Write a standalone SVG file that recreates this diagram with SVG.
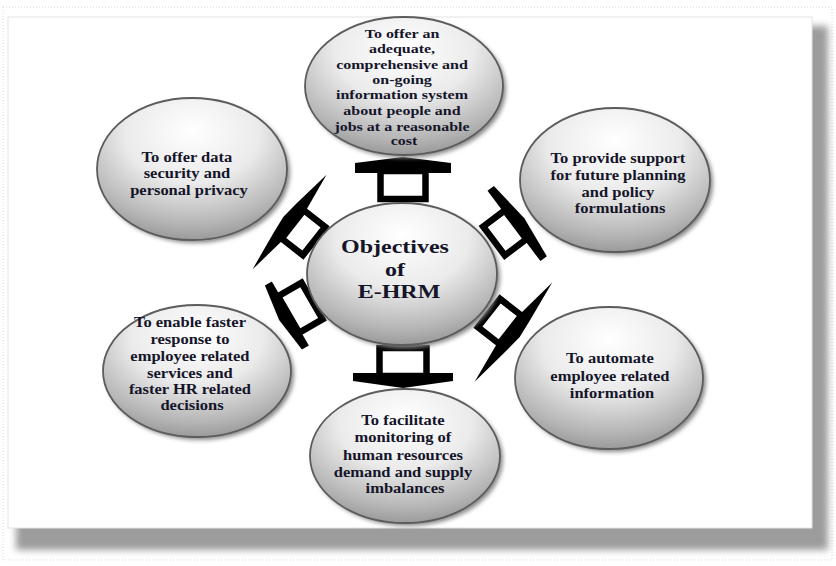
<svg xmlns="http://www.w3.org/2000/svg" width="836" height="566" viewBox="0 0 836 566">
  <style>
    .goal { fill: url(#ballFill); stroke: #5c5c5c; stroke-width: 1.8; }
    .halo { fill: #8a8a8a; filter: url(#soft); }
    .lbl { font-family: "Liberation Serif", "Times New Roman", serif; font-weight: bold; fill: #15152a; text-anchor: middle; }
    .s16 { font-size: 16px; }
    .s165 { font-size: 16.5px; }
    .hub { font-size: 24px; }
    .body { fill: #ffffff; stroke: #000000; stroke-width: 6.5; stroke-linejoin: miter; }
    .head { fill: #000000; }
  </style>
  <defs>
    <radialGradient id="ballFill" cx="50%" cy="28%" r="78%" fx="50%" fy="22%">
      <stop offset="0" stop-color="#ffffff"/>
      <stop offset="0.45" stop-color="#ebebeb"/>
      <stop offset="0.8" stop-color="#b4b4b4"/>
      <stop offset="1" stop-color="#8c8c8c"/>
    </radialGradient>
    <filter id="soft" x="-20%" y="-20%" width="140%" height="140%">
      <feGaussianBlur stdDeviation="2.2"/>
    </filter>
    <filter id="frameShade" x="-5%" y="-5%" width="110%" height="110%">
      <feGaussianBlur stdDeviation="3.5"/>
    </filter>
  </defs>

  <!-- page frame with its cast shadow -->
  <rect x="0" y="0" width="836" height="566" fill="#ffffff"/>
  <rect x="3" y="7" width="829" height="553" fill="none" stroke="#d9d9d9" stroke-width="1" stroke-dasharray="1 2"/>
  <rect x="16" y="26" width="812" height="524" fill="#9c9c9c" filter="url(#frameShade)"/>
  <rect x="8" y="17" width="804" height="511" fill="#ffffff" stroke="#e4e4e4" stroke-width="1"/>

  <!-- connectors: outlined block arrows pointing outward from the hub -->
  <g id="connectors">
    <g id="arrow-up" transform="translate(403,199)">
      <rect class="body" x="-22.5" y="-28" width="45" height="28"/>
      <polygon class="head" points="-48,-26 -48,-36 0,-42 48,-36 48,-26"/>
    </g>
    <g id="arrow-down" transform="translate(403,348) rotate(180)">
      <rect class="body" x="-23.5" y="-28" width="47" height="28"/>
      <polygon class="head" points="-50,-25 -50,-33 0,-40 50,-33 50,-25"/>
    </g>
    <g id="arrow-upper-left" transform="translate(314,241) rotate(-52)">
      <rect class="body" x="-18" y="-27" width="36" height="27"/>
      <polygon class="head" points="-60,-31 -18,-37 0,-39 18,-37 60,-31 18,-25 -18,-25"/>
    </g>
    <g id="arrow-lower-left" transform="translate(312,301) rotate(-120)">
      <rect class="body" x="-21" y="-27" width="42" height="27"/>
      <polygon class="head" points="-37,-25 -37,-33 0,-38 37,-33 37,-25"/>
    </g>
    <g id="arrow-upper-right" transform="translate(494,241) rotate(53)">
      <rect class="body" x="-18" y="-27" width="36" height="27"/>
      <polygon class="head" points="-44,-25 -44,-33 0,-38 44,-33 44,-25"/>
    </g>
    <g id="arrow-lower-right" transform="translate(489,313) rotate(128)">
      <rect class="body" x="-18" y="-27" width="36" height="27"/>
      <polygon class="head" points="-63,-31 -18,-37 0,-39 18,-37 63,-31 18,-25 -18,-25"/>
    </g>
  </g>

  <!-- hub (lettering is slightly squashed vertically) -->
  <g id="hub">
    <ellipse class="halo" cx="405" cy="277" rx="95" ry="71"/>
    <ellipse class="goal" cx="402" cy="274" rx="95" ry="71"/>
    <text class="lbl hub" transform="translate(398,0) scale(1,0.8)">
      <tspan x="0" y="316.25">Objectives</tspan>
      <tspan x="0" y="345">of</tspan>
      <tspan x="1" y="372.5">E-HRM</tspan>
    </text>
  </g>

  <!-- objective: information system -->
  <g id="goal-information">
    <ellipse class="halo" cx="407" cy="89" rx="99" ry="69"/>
    <ellipse class="goal" cx="404" cy="86" rx="99" ry="69"/>
    <text class="lbl s16" transform="translate(404,0) scale(1,0.82)">
      <tspan x="0" y="46.34">To offer an</tspan>
      <tspan x="0" y="65.24">adequate,</tspan>
      <tspan x="0" y="84.15">comprehensive and</tspan>
      <tspan x="0" y="102.44">on-going</tspan>
      <tspan x="0" y="121.34">information system</tspan>
      <tspan x="0" y="140.24">about people and</tspan>
      <tspan x="0" y="159.15">jobs at a reasonable</tspan>
      <tspan x="0" y="177.44">cost</tspan>
    </text>
  </g>

  <!-- objective: security -->
  <g id="goal-security">
    <ellipse class="halo" cx="195" cy="172" rx="95" ry="71"/>
    <ellipse class="goal" cx="192" cy="169" rx="95" ry="71"/>
    <text class="lbl s165" transform="translate(189,0) scale(1,0.82)">
      <tspan x="0" y="197.56">To offer data</tspan>
      <tspan x="0" y="217.68">security and</tspan>
      <tspan x="0" y="237.8">personal privacy</tspan>
    </text>
  </g>

  <!-- objective: planning -->
  <g id="goal-planning">
    <ellipse class="halo" cx="618" cy="183" rx="95" ry="72"/>
    <ellipse class="goal" cx="615" cy="180" rx="95" ry="72"/>
    <text class="lbl s165" transform="translate(620,0) scale(1,0.82)">
      <tspan x="0" y="198.78">To provide support</tspan>
      <tspan x="0" y="219.51">for future planning</tspan>
      <tspan x="0" y="240.24">and policy</tspan>
      <tspan x="0" y="260.37">formulations</tspan>
    </text>
  </g>

  <!-- objective: faster response -->
  <g id="goal-response">
    <ellipse class="halo" cx="200" cy="374" rx="94" ry="66"/>
    <ellipse class="goal" cx="197" cy="371" rx="94" ry="66"/>
    <text class="lbl s165" transform="translate(192,0) scale(1,0.82)">
      <tspan x="0" y="398.78">To enable faster</tspan>
      <tspan x="0" y="419.51">response to</tspan>
      <tspan x="0" y="440.24">employee related</tspan>
      <tspan x="0" y="460.98">services and</tspan>
      <tspan x="0" y="480.49">faster HR related</tspan>
      <tspan x="0" y="500">decisions</tspan>
    </text>
  </g>

  <!-- objective: automation -->
  <g id="goal-automation">
    <ellipse class="halo" cx="612" cy="381" rx="94" ry="71"/>
    <ellipse class="goal" cx="609" cy="378" rx="94" ry="71"/>
    <text class="lbl s165" transform="translate(612,0) scale(1,0.82)">
      <tspan x="0" y="442.68">To automate</tspan>
      <tspan x="0" y="464.63">employee related</tspan>
      <tspan x="0" y="485.37">information</tspan>
    </text>
  </g>

  <!-- objective: monitoring -->
  <g id="goal-monitoring">
    <ellipse class="halo" cx="408" cy="459" rx="95" ry="67"/>
    <ellipse class="goal" cx="405" cy="456" rx="95" ry="67"/>
    <text class="lbl s165" transform="translate(405,0) scale(1,0.82)">
      <tspan x="0" y="518.29">To facilitate</tspan>
      <tspan x="0" y="539.02">monitoring of</tspan>
      <tspan x="0" y="560.98">human resources</tspan>
      <tspan x="0" y="581.71">demand and supply</tspan>
      <tspan x="0" y="601.22">imbalances</tspan>
    </text>
  </g>
</svg>
